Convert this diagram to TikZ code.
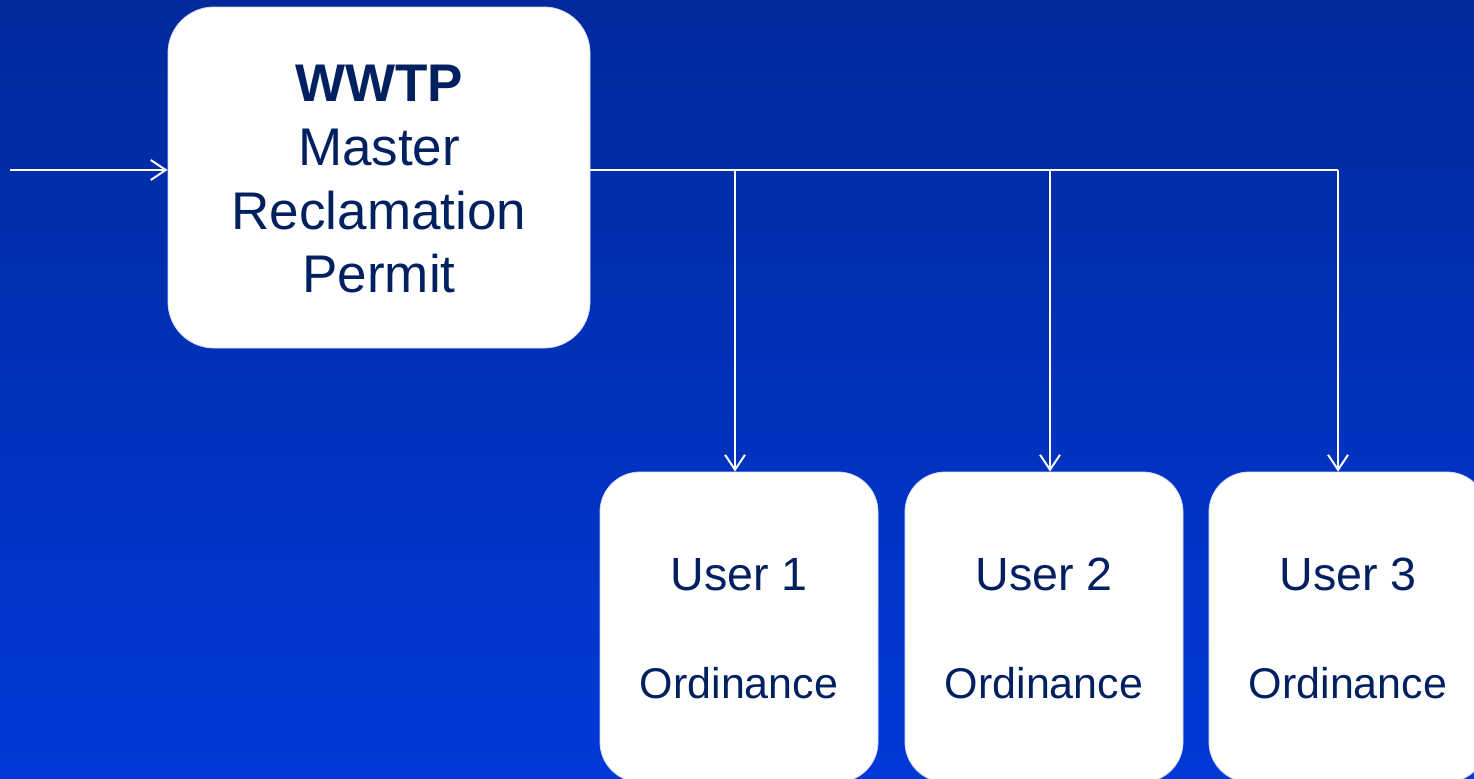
\documentclass[tikz,border=0pt]{standalone}
\usepackage{fontspec}
\setmainfont{Liberation Sans}
\usetikzlibrary{arrows.meta}
\definecolor{bgtop}{RGB}{0,41,155}
\definecolor{bgbot}{RGB}{0,57,216}
\definecolor{navy}{RGB}{0,32,96}
\tikzset{
  px/.style={x=0.5pt,y=-0.5pt},
  whitebox/.style={rectangle,fill=white,draw=white!85!blue,line width=0.4pt,inner sep=0pt},
  conn/.style={draw=white,line width=1pt},
  arr/.style={conn,-{Straight Barb[length=7.5pt,width=10pt,line width=1pt]}},
  lbl/.style={text=navy,inner sep=0pt,anchor=base},
}
\begin{document}
\begin{tikzpicture}[px]
\useasboundingbox (0,0) rectangle (1474,778);
\shade[top color=bgtop,bottom color=bgbot] (0,0) rectangle (1474,778);
\begin{scope}
\clip (0,0) rectangle (1474,778);
% master box
\node[whitebox,rounded corners=23pt,minimum width=211pt,minimum height=170.5pt] (master) at (379,177.5) {};
\node[lbl,font=\fontsize{26.5}{30}\selectfont\bfseries] (t1) at (379,101) {WWTP};
\node[lbl,font=\fontsize{26.5}{30}\selectfont] (t2) at (379,165) {Master};
\node[lbl,font=\fontsize{26.5}{30}\selectfont] (t3) at (379,229) {Reclamation};
\node[lbl,font=\fontsize{26.5}{30}\selectfont] (t4) at (379,292) {Permit};
% user boxes
\foreach \i/\x in {1/600,2/905,3/1209}{
  \node[whitebox,rounded corners=20pt,minimum width=139pt,minimum height=155pt] (box\i) at (\x+139,627) {};
  \node[lbl,font=\fontsize{23.3}{27}\selectfont] (u\i) at (\x+139,590) {User \i};
  \node[lbl,font=\fontsize{21.5}{25}\selectfont] (o\i) at (\x+139,698) {Ordinance};
}
\end{scope}
\coordinate (in) at (10,170);
\coordinate (j1) at (735,170);
\coordinate (j2) at (1050,170);
\coordinate (j3) at (1338,170);
\draw[arr] (in) -- (in -| master.west);
\draw[conn] (in -| master.east) -- (j3);
\draw[arr] (j1) -- (j1 |- box1.north);
\draw[arr] (j2) -- (j2 |- box2.north);
\draw[arr] (j3) -- (j3 |- box3.north);
\end{tikzpicture}
\end{document}
